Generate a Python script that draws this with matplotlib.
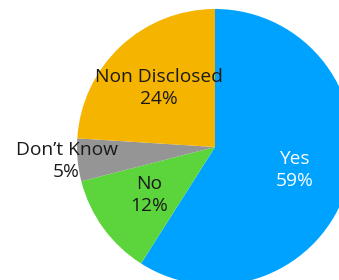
import numpy as np
import matplotlib.pyplot as plt

labels = ["Yes", "No", "Don\u2019t Know", "Non Disclosed"]
shares = [59, 12, 5, 24]
colors = ["#00A2FF", "#5CD43C", "#959595", "#F5B400"]
text_colors = ["white", "#1a1a1a", "#1a1a1a", "#1a1a1a"]

fig = plt.figure(figsize=(3.39, 2.80), dpi=100)
ax = fig.add_axes([0, 0, 1, 1])

# pixel-like units: centre of the pie at (0, 0), radius 138
ax.pie(shares, colors=colors, startangle=90, counterclock=False,
       radius=138, center=(0, 0), wedgeprops=dict(linewidth=0))
ax.set_xlim(-215, 124)
ax.set_ylim(-133, 147)
ax.set_aspect("equal")
ax.axis("off")

# label positions along each wedge's mid angle
ends = 90 - np.cumsum(shares) / 100 * 360
mids = ends + np.array(shares) / 100 * 360 / 2
dists = [0.6, 0.59, 1.08, 0.59]
for lab, pct, ang, d, tc in zip(labels, shares, mids, dists, text_colors):
    a = np.deg2rad(ang)
    ax.text(138 * d * np.cos(a), 138 * d * np.sin(a), f"{lab}\n{pct}%",
            ha="center", va="center", color=tc, fontsize=13.8,
            family="Open Sans", linespacing=1.3)

fig.savefig("out.png", dpi=100)
